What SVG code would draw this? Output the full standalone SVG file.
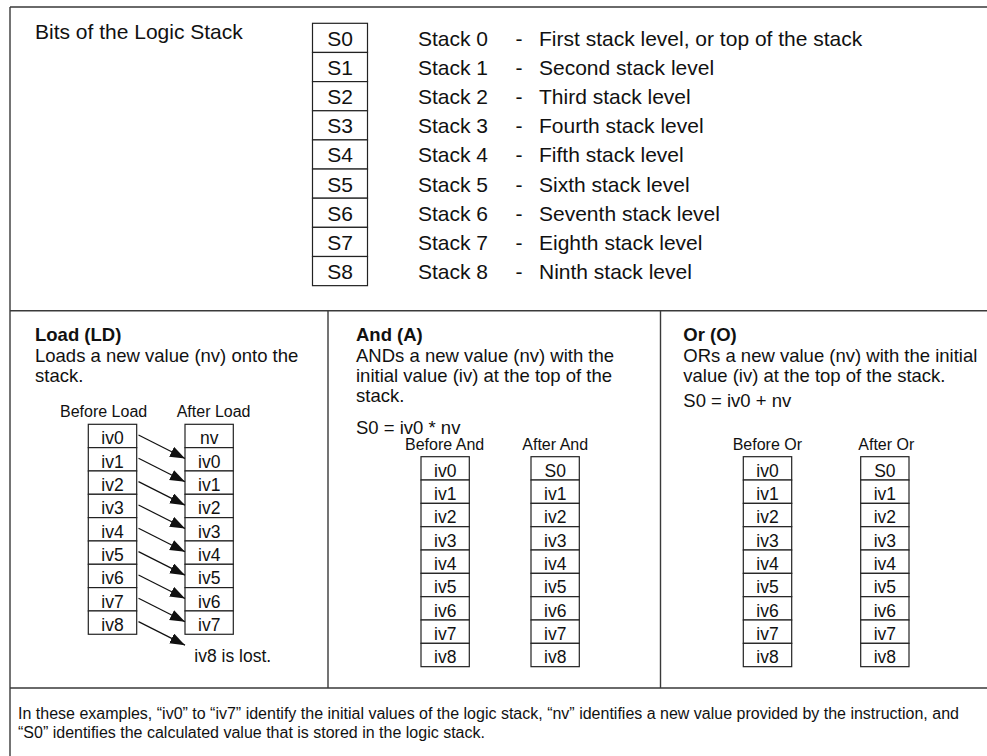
<svg xmlns="http://www.w3.org/2000/svg" width="987" height="756" viewBox="0 0 987 756">
<defs>
<style>
text{font-family:"Liberation Sans",Arial,sans-serif;fill:#111}
.frame{stroke:#3a3a3a;stroke-width:1.4;fill:none}
.cell{stroke:#222;stroke-width:1.2;fill:#fff}
.t21{font-size:21px}
.t18{font-size:18.5px}
.b18{font-size:18.5px;font-weight:bold}
.t16{font-size:16px}
.c17{font-size:17.5px;text-anchor:middle}
.c21{font-size:21px;text-anchor:middle}
.arr{stroke:#111;stroke-width:1.2;fill:none;marker-end:url(#ah)}
</style>
<marker id="ah" markerUnits="userSpaceOnUse" markerWidth="18" markerHeight="14" refX="15" refY="5.5" orient="auto">
<path d="M0,0 L15,5.5 L0,11 Z" fill="#111"/>
</marker>
</defs>
<rect width="987" height="756" fill="#fff"/>
<g id="frame">
<path class="frame" d="M10,7 H987 M10,7 V756 M10,310.7 H987 M10,688 H987 M328,310.7 V688 M660.5,310.7 V688"/>
</g>
<g id="top-section">
<text class="t21" x="35" y="39">Bits of the Logic Stack</text>
<g id="stack-bits">
<rect class="cell" x="312.5" y="23.3" width="55" height="29.15"/>
<rect class="cell" x="312.5" y="52.45" width="55" height="29.15"/>
<rect class="cell" x="312.5" y="81.6" width="55" height="29.15"/>
<rect class="cell" x="312.5" y="110.75" width="55" height="29.15"/>
<rect class="cell" x="312.5" y="139.9" width="55" height="29.15"/>
<rect class="cell" x="312.5" y="169.05" width="55" height="29.15"/>
<rect class="cell" x="312.5" y="198.2" width="55" height="29.15"/>
<rect class="cell" x="312.5" y="227.35" width="55" height="29.15"/>
<rect class="cell" x="312.5" y="256.5" width="55" height="29.15"/>
<text class="c21" x="340" y="45.8">S0</text>
<text class="c21" x="340" y="74.95">S1</text>
<text class="c21" x="340" y="104.1">S2</text>
<text class="c21" x="340" y="133.25">S3</text>
<text class="c21" x="340" y="162.4">S4</text>
<text class="c21" x="340" y="191.55">S5</text>
<text class="c21" x="340" y="220.7">S6</text>
<text class="c21" x="340" y="249.85">S7</text>
<text class="c21" x="340" y="279">S8</text>
</g>
<g id="stack-names" class="t21">
<text x="418" y="45.8">Stack 0</text>
<text x="418" y="74.95">Stack 1</text>
<text x="418" y="104.1">Stack 2</text>
<text x="418" y="133.25">Stack 3</text>
<text x="418" y="162.4">Stack 4</text>
<text x="418" y="191.55">Stack 5</text>
<text x="418" y="220.7">Stack 6</text>
<text x="418" y="249.85">Stack 7</text>
<text x="418" y="279">Stack 8</text>
</g>
<g id="dashes" class="t21">
<text x="515.5" y="45.8">-</text>
<text x="515.5" y="74.95">-</text>
<text x="515.5" y="104.1">-</text>
<text x="515.5" y="133.25">-</text>
<text x="515.5" y="162.4">-</text>
<text x="515.5" y="191.55">-</text>
<text x="515.5" y="220.7">-</text>
<text x="515.5" y="249.85">-</text>
<text x="515.5" y="279">-</text>
</g>
<g id="descriptions" class="t21">
<text x="539" y="45.8">First stack level, or top of the stack</text>
<text x="539" y="74.95">Second stack level</text>
<text x="539" y="104.1">Third stack level</text>
<text x="539" y="133.25">Fourth stack level</text>
<text x="539" y="162.4">Fifth stack level</text>
<text x="539" y="191.55">Sixth stack level</text>
<text x="539" y="220.7">Seventh stack level</text>
<text x="539" y="249.85">Eighth stack level</text>
<text x="539" y="279">Ninth stack level</text>
</g>
</g>
<g id="load">
<text class="b18" x="35" y="340.5">Load (LD)</text>
<text class="t18" x="35" y="361.5">Loads a new value (nv) onto the</text>
<text class="t18" x="35" y="381.5">stack.</text>
<text class="t16" x="60" y="416.7">Before Load</text>
<text class="t16" x="176.7" y="416.7">After Load</text>
<g id="load-before">
<rect class="cell" x="88.3" y="424.3" width="48.4" height="23.33"/>
<rect class="cell" x="88.3" y="447.63" width="48.4" height="23.33"/>
<rect class="cell" x="88.3" y="470.96" width="48.4" height="23.33"/>
<rect class="cell" x="88.3" y="494.29" width="48.4" height="23.33"/>
<rect class="cell" x="88.3" y="517.62" width="48.4" height="23.33"/>
<rect class="cell" x="88.3" y="540.95" width="48.4" height="23.33"/>
<rect class="cell" x="88.3" y="564.28" width="48.4" height="23.33"/>
<rect class="cell" x="88.3" y="587.61" width="48.4" height="23.33"/>
<rect class="cell" x="88.3" y="610.94" width="48.4" height="23.33"/>
<text class="c17" x="112.5" y="444.3">iv0</text>
<text class="c17" x="112.5" y="467.63">iv1</text>
<text class="c17" x="112.5" y="490.96">iv2</text>
<text class="c17" x="112.5" y="514.29">iv3</text>
<text class="c17" x="112.5" y="537.62">iv4</text>
<text class="c17" x="112.5" y="560.95">iv5</text>
<text class="c17" x="112.5" y="584.28">iv6</text>
<text class="c17" x="112.5" y="607.61">iv7</text>
<text class="c17" x="112.5" y="630.94">iv8</text>
</g>
<g id="load-after">
<rect class="cell" x="185" y="424.3" width="48.3" height="23.33"/>
<rect class="cell" x="185" y="447.63" width="48.3" height="23.33"/>
<rect class="cell" x="185" y="470.96" width="48.3" height="23.33"/>
<rect class="cell" x="185" y="494.29" width="48.3" height="23.33"/>
<rect class="cell" x="185" y="517.62" width="48.3" height="23.33"/>
<rect class="cell" x="185" y="540.95" width="48.3" height="23.33"/>
<rect class="cell" x="185" y="564.28" width="48.3" height="23.33"/>
<rect class="cell" x="185" y="587.61" width="48.3" height="23.33"/>
<rect class="cell" x="185" y="610.94" width="48.3" height="23.33"/>
<text class="c17" x="209.2" y="444.3">nv</text>
<text class="c17" x="209.2" y="467.63">iv0</text>
<text class="c17" x="209.2" y="490.96">iv1</text>
<text class="c17" x="209.2" y="514.29">iv2</text>
<text class="c17" x="209.2" y="537.62">iv3</text>
<text class="c17" x="209.2" y="560.95">iv4</text>
<text class="c17" x="209.2" y="584.28">iv5</text>
<text class="c17" x="209.2" y="607.61">iv6</text>
<text class="c17" x="209.2" y="630.94">iv7</text>
</g>
<text x="194.3" y="661.7" style="font-size:17.5px">iv8 is lost.</text>
</g>
<g id="connectors">
<line class="arr" x1="138.5" y1="435" x2="185" y2="458.5"/>
<line class="arr" x1="138.5" y1="458.33" x2="185" y2="481.83"/>
<line class="arr" x1="138.5" y1="481.66" x2="185" y2="505.16"/>
<line class="arr" x1="138.5" y1="504.99" x2="185" y2="528.49"/>
<line class="arr" x1="138.5" y1="528.32" x2="185" y2="551.82"/>
<line class="arr" x1="138.5" y1="551.65" x2="185" y2="575.15"/>
<line class="arr" x1="138.5" y1="574.98" x2="185" y2="598.48"/>
<line class="arr" x1="138.5" y1="598.31" x2="185" y2="621.81"/>
<line class="arr" x1="138.5" y1="621.64" x2="185" y2="645.14"/>
</g>
<g id="and">
<text class="b18" x="356" y="340.5">And (A)</text>
<text class="t18" x="356" y="361.5">ANDs a new value (nv) with the</text>
<text class="t18" x="356" y="381.5">initial value (iv) at the top of the</text>
<text class="t18" x="356" y="401.5">stack.</text>
<text class="t18" x="356" y="433.5">S0 = iv0 * nv</text>
<text class="t16" x="405" y="450">Before And</text>
<text class="t16" x="522.3" y="450">After And</text>
<g id="and-before">
<rect class="cell" x="421" y="456.7" width="48.3" height="23.33"/>
<rect class="cell" x="421" y="480.03" width="48.3" height="23.33"/>
<rect class="cell" x="421" y="503.36" width="48.3" height="23.33"/>
<rect class="cell" x="421" y="526.69" width="48.3" height="23.33"/>
<rect class="cell" x="421" y="550.02" width="48.3" height="23.33"/>
<rect class="cell" x="421" y="573.35" width="48.3" height="23.33"/>
<rect class="cell" x="421" y="596.68" width="48.3" height="23.33"/>
<rect class="cell" x="421" y="620.01" width="48.3" height="23.33"/>
<rect class="cell" x="421" y="643.34" width="48.3" height="23.33"/>
<text class="c17" x="445.2" y="476.7">iv0</text>
<text class="c17" x="445.2" y="500.03">iv1</text>
<text class="c17" x="445.2" y="523.36">iv2</text>
<text class="c17" x="445.2" y="546.69">iv3</text>
<text class="c17" x="445.2" y="570.02">iv4</text>
<text class="c17" x="445.2" y="593.35">iv5</text>
<text class="c17" x="445.2" y="616.68">iv6</text>
<text class="c17" x="445.2" y="640.01">iv7</text>
<text class="c17" x="445.2" y="663.34">iv8</text>
</g>
<g id="and-after">
<rect class="cell" x="531" y="456.7" width="48.3" height="23.33"/>
<rect class="cell" x="531" y="480.03" width="48.3" height="23.33"/>
<rect class="cell" x="531" y="503.36" width="48.3" height="23.33"/>
<rect class="cell" x="531" y="526.69" width="48.3" height="23.33"/>
<rect class="cell" x="531" y="550.02" width="48.3" height="23.33"/>
<rect class="cell" x="531" y="573.35" width="48.3" height="23.33"/>
<rect class="cell" x="531" y="596.68" width="48.3" height="23.33"/>
<rect class="cell" x="531" y="620.01" width="48.3" height="23.33"/>
<rect class="cell" x="531" y="643.34" width="48.3" height="23.33"/>
<text class="c17" x="555.2" y="476.7">S0</text>
<text class="c17" x="555.2" y="500.03">iv1</text>
<text class="c17" x="555.2" y="523.36">iv2</text>
<text class="c17" x="555.2" y="546.69">iv3</text>
<text class="c17" x="555.2" y="570.02">iv4</text>
<text class="c17" x="555.2" y="593.35">iv5</text>
<text class="c17" x="555.2" y="616.68">iv6</text>
<text class="c17" x="555.2" y="640.01">iv7</text>
<text class="c17" x="555.2" y="663.34">iv8</text>
</g>
</g>
<g id="or">
<text class="b18" x="683.3" y="340.5">Or (O)</text>
<text class="t18" x="683.3" y="361.5">ORs a new value (nv) with the initial</text>
<text class="t18" x="683.3" y="381.5">value (iv) at the top of the stack.</text>
<text class="t18" x="683.3" y="406.5">S0 = iv0 + nv</text>
<text class="t16" x="732.7" y="450">Before Or</text>
<text class="t16" x="858.3" y="450">After Or</text>
<g id="or-before">
<rect class="cell" x="743.3" y="456.7" width="48.4" height="23.33"/>
<rect class="cell" x="743.3" y="480.03" width="48.4" height="23.33"/>
<rect class="cell" x="743.3" y="503.36" width="48.4" height="23.33"/>
<rect class="cell" x="743.3" y="526.69" width="48.4" height="23.33"/>
<rect class="cell" x="743.3" y="550.02" width="48.4" height="23.33"/>
<rect class="cell" x="743.3" y="573.35" width="48.4" height="23.33"/>
<rect class="cell" x="743.3" y="596.68" width="48.4" height="23.33"/>
<rect class="cell" x="743.3" y="620.01" width="48.4" height="23.33"/>
<rect class="cell" x="743.3" y="643.34" width="48.4" height="23.33"/>
<text class="c17" x="767.5" y="476.7">iv0</text>
<text class="c17" x="767.5" y="500.03">iv1</text>
<text class="c17" x="767.5" y="523.36">iv2</text>
<text class="c17" x="767.5" y="546.69">iv3</text>
<text class="c17" x="767.5" y="570.02">iv4</text>
<text class="c17" x="767.5" y="593.35">iv5</text>
<text class="c17" x="767.5" y="616.68">iv6</text>
<text class="c17" x="767.5" y="640.01">iv7</text>
<text class="c17" x="767.5" y="663.34">iv8</text>
</g>
<g id="or-after">
<rect class="cell" x="860.7" y="456.7" width="48.3" height="23.33"/>
<rect class="cell" x="860.7" y="480.03" width="48.3" height="23.33"/>
<rect class="cell" x="860.7" y="503.36" width="48.3" height="23.33"/>
<rect class="cell" x="860.7" y="526.69" width="48.3" height="23.33"/>
<rect class="cell" x="860.7" y="550.02" width="48.3" height="23.33"/>
<rect class="cell" x="860.7" y="573.35" width="48.3" height="23.33"/>
<rect class="cell" x="860.7" y="596.68" width="48.3" height="23.33"/>
<rect class="cell" x="860.7" y="620.01" width="48.3" height="23.33"/>
<rect class="cell" x="860.7" y="643.34" width="48.3" height="23.33"/>
<text class="c17" x="884.9" y="476.7">S0</text>
<text class="c17" x="884.9" y="500.03">iv1</text>
<text class="c17" x="884.9" y="523.36">iv2</text>
<text class="c17" x="884.9" y="546.69">iv3</text>
<text class="c17" x="884.9" y="570.02">iv4</text>
<text class="c17" x="884.9" y="593.35">iv5</text>
<text class="c17" x="884.9" y="616.68">iv6</text>
<text class="c17" x="884.9" y="640.01">iv7</text>
<text class="c17" x="884.9" y="663.34">iv8</text>
</g>
</g>
<g id="footnote" class="t16">
<text x="18" y="719">In these examples, “iv0” to “iv7” identify the initial values of the logic stack, “nv” identifies a new value provided by the instruction, and</text>
<text x="18" y="738">“S0” identifies the calculated value that is stored in the logic stack.</text>
</g>
</svg>
